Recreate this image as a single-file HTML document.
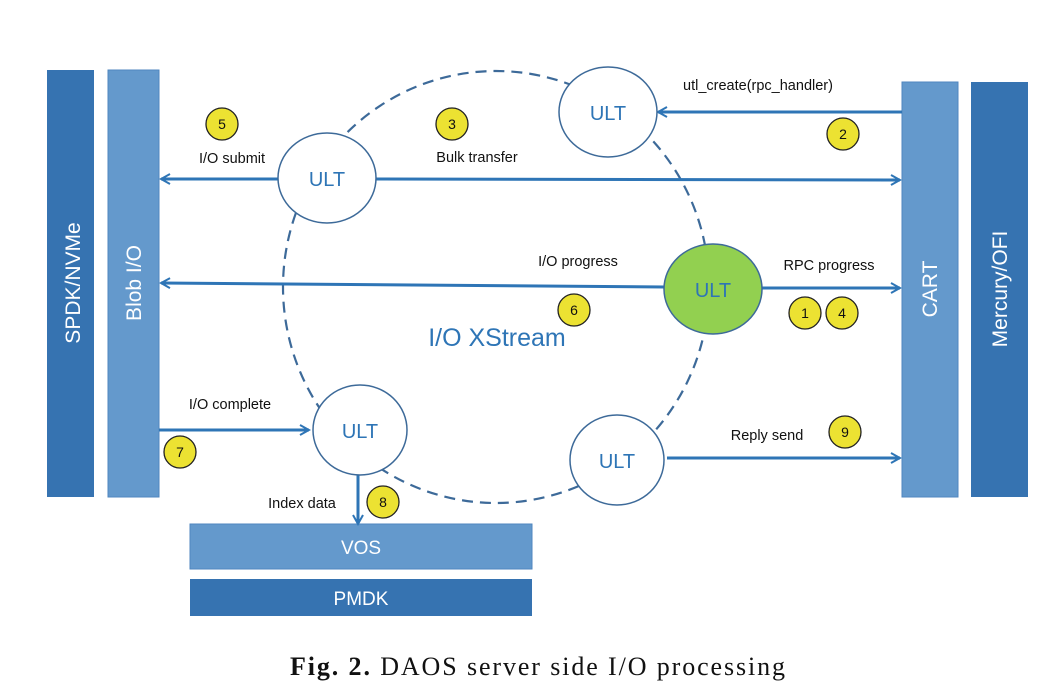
<!DOCTYPE html>
<html><head><meta charset="utf-8"><style>
html,body{margin:0;padding:0;background:#fff;}
svg{display:block}
text{font-family:"Liberation Sans",sans-serif;}
text.cap{font-family:"Liberation Serif",serif;}
</style></head><body>
<svg width="1061" height="690" viewBox="0 0 1061 690" xmlns="http://www.w3.org/2000/svg">
<defs>
<marker id="a" markerWidth="12" markerHeight="12" refX="10" refY="6" orient="auto" markerUnits="userSpaceOnUse">
<path d="M1,1 L10,6 L1,11" fill="none" stroke="#2e75b6" stroke-width="2"/>
</marker>
</defs>
<rect x="47" y="70" width="47" height="427" fill="#3673b1"/>
<rect x="108" y="70" width="51" height="427" fill="#6499cc" stroke="#4f86bf"/>
<rect x="902" y="82" width="56" height="415" fill="#6499cc" stroke="#4f86bf"/>
<rect x="971" y="82" width="57" height="415" fill="#3673b1"/>
<rect x="190" y="524" width="342" height="45" fill="#6499cc" stroke="#4f86bf"/>
<rect x="190" y="579" width="342" height="37" fill="#3673b1"/>
<text transform="translate(80,283) rotate(-90)" text-anchor="middle" fill="#fff" font-size="21">SPDK/NVMe</text>
<text transform="translate(141,283) rotate(-90)" text-anchor="middle" fill="#fff" font-size="21">Blob I/O</text>
<text transform="translate(937,289) rotate(-90)" text-anchor="middle" fill="#fff" font-size="21">CART</text>
<text transform="translate(1007,289) rotate(-90)" text-anchor="middle" fill="#fff" font-size="21">Mercury/OFI</text>
<text x="361" y="554" text-anchor="middle" fill="#fff" font-size="19">VOS</text>
<text x="361" y="605" text-anchor="middle" fill="#fff" font-size="19">PMDK</text>
<ellipse cx="496" cy="287" rx="213" ry="216" fill="none" stroke="#3d6a99" stroke-width="2.2" stroke-dasharray="11,7"/>
<g stroke="#2e75b6" stroke-width="3" fill="none" marker-end="url(#a)">
<line x1="902" y1="112" x2="658" y2="112"/>
<line x1="278" y1="179" x2="161" y2="179"/>
<line x1="376" y1="179" x2="900" y2="180"/>
<line x1="665" y1="287" x2="161" y2="283"/>
<line x1="762" y1="288" x2="900" y2="288"/>
<line x1="159" y1="430" x2="309" y2="430"/>
<line x1="667" y1="458" x2="900" y2="458"/>
<line x1="358" y1="475" x2="358" y2="524"/>
</g>
<g stroke="#3d6a99" stroke-width="1.5">
<ellipse cx="327" cy="178" rx="49" ry="45" fill="#fff"/>
<ellipse cx="608" cy="112" rx="49" ry="45" fill="#fff"/>
<ellipse cx="713" cy="289" rx="49" ry="45" fill="#92d050"/>
<ellipse cx="360" cy="430" rx="47" ry="45" fill="#fff"/>
<ellipse cx="617" cy="460" rx="47" ry="45" fill="#fff"/>
</g>
<g fill="#2e75b6" font-size="20" text-anchor="middle">
<text x="327" y="186">ULT</text>
<text x="608" y="120">ULT</text>
<text x="713" y="297">ULT</text>
<text x="360" y="438">ULT</text>
<text x="617" y="468">ULT</text>
<text x="497" y="346" font-size="25">I/O XStream</text>
</g>
<g fill="#111" font-size="14.5" text-anchor="middle">
<text x="232" y="163">I/O submit</text>
<text x="477" y="162">Bulk transfer</text>
<text x="758" y="90">utl_create(rpc_handler)</text>
<text x="578" y="266">I/O progress</text>
<text x="829" y="270">RPC progress</text>
<text x="230" y="409">I/O complete</text>
<text x="767" y="440">Reply send</text>
<text x="302" y="508">Index data</text>
</g>
<g stroke="#222" stroke-width="1.3" fill="#ece232">
<circle cx="222" cy="124" r="16"/>
<circle cx="452" cy="124" r="16"/>
<circle cx="843" cy="134" r="16"/>
<circle cx="574" cy="310" r="16"/>
<circle cx="805" cy="313" r="16"/>
<circle cx="842" cy="313" r="16"/>
<circle cx="180" cy="452" r="16"/>
<circle cx="383" cy="502" r="16"/>
<circle cx="845" cy="432" r="16"/>
</g>
<g fill="#111" font-size="14" text-anchor="middle">
<text x="222" y="129">5</text>
<text x="452" y="129">3</text>
<text x="843" y="139">2</text>
<text x="574" y="315">6</text>
<text x="805" y="318">1</text>
<text x="842" y="318">4</text>
<text x="180" y="457">7</text>
<text x="383" y="507">8</text>
<text x="845" y="437">9</text>
</g>
<text class="cap" x="290" y="675" font-size="26" fill="#111" textLength="495" lengthAdjust="spacing"><tspan font-weight="bold">Fig. 2.</tspan>  DAOS server side I/O processing</text>
</svg>
</body></html>
